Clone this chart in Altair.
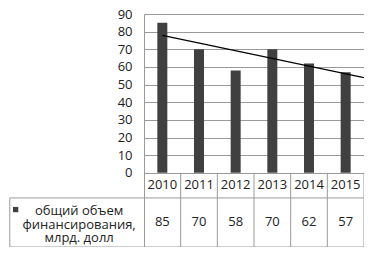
import altair as alt
import pandas as pd

# ---- data ----
years = ["2010", "2011", "2012", "2013", "2014", "2015"]
values = [85, 70, 58, 70, 62, 57]
y_ticks = [0, 10, 20, 30, 40, 50, 60, 70, 80, 90]
series_label = ["общий объем", "финансирования,", "млрд. долл"]

FONT = "Open Sans"
TXT = "#222222"
BAR = "#404040"
LINE = "#9a9a9a"

n = len(years)
df = pd.DataFrame({"year": years, "value": values, "i": list(range(n))})
df["xc"] = df["i"] + 0.5

# table geometry in data units (y below zero is the data table)
HEAD_MID = -7.1
ROW_SPLIT = -14.2
ROW_MID = -28.1
BOTTOM = -42
LEFT = -3.66

XS = alt.Scale(domain=[0, n], nice=False, zero=False, padding=0)
YS = alt.Scale(domain=[BOTTOM, 90], nice=False, zero=False, padding=0)
Y_AXIS = alt.Axis(
    values=y_ticks, grid=True, gridColor=LINE, gridWidth=1, labelOverlap=False,
    domainColor=LINE, ticks=False, labelPadding=12, title=None,
    labelFont=FONT, labelFontSize=13, labelColor=TXT)


def X(f):
    return alt.X(f, scale=XS, axis=None)


def Y(f):
    return alt.Y(f, scale=YS, axis=Y_AXIS)


bars = alt.Chart(df).mark_bar(size=10, color=BAR).encode(
    x=X("xc:Q"), y=Y("value:Q"), y2=alt.datum(0),
)

trend = alt.Chart(df).transform_regression(
    "i", "value", extent=[0, n - 0.5]
).transform_calculate(xc="datum.i + 0.5").mark_line(
    color="black", strokeWidth=1.3
).encode(x=X("xc:Q"), y=Y("value:Q"))

# table grid segments
segs = []
for k in range(1, n + 1):
    segs.append({"x": k, "x2": k, "y": 0, "y2": BOTTOM})
segs.append({"x": LEFT, "x2": n, "y": ROW_SPLIT, "y2": ROW_SPLIT})
segs.append({"x": LEFT, "x2": n, "y": BOTTOM, "y2": BOTTOM})
segs.append({"x": LEFT, "x2": LEFT, "y": ROW_SPLIT, "y2": BOTTOM})
segs_df = pd.DataFrame(segs)

grid = alt.Chart(segs_df).mark_rule(color=LINE, strokeWidth=1).encode(
    x=X("x:Q"), x2="x2:Q", y=Y("y:Q"), y2="y2:Q",
)

year_txt = alt.Chart(df).transform_calculate(hy=str(HEAD_MID)).mark_text(
    font=FONT, fontSize=13, color=TXT).encode(
    x=X("xc:Q"), y=Y("hy:Q"), text="year:N")

val_txt = alt.Chart(df).transform_calculate(vy=str(ROW_MID)).mark_text(
    font=FONT, fontSize=13, color=TXT).encode(
    x=X("xc:Q"), y=Y("vy:Q"), text="value:Q")

leg_lines = pd.DataFrame({"label": series_label, "x": [-1.77] * 3,
                          "y": [-21.6, -29.3, -36.8]})
leg_mark = pd.DataFrame({"mx": [-3.5], "my": [-20.8]})

leg_sq = alt.Chart(leg_mark).mark_square(size=28, color=BAR, opacity=1).encode(
    x=X("mx:Q"), y=Y("my:Q"))

leg_txt = alt.Chart(leg_lines).mark_text(font=FONT, fontSize=13, color=TXT,
                                         align="center", baseline="middle").encode(
    x=X("x:Q"), y=Y("y:Q"), text="label:N")

chart = alt.layer(bars, grid, trend, year_txt, val_txt, leg_sq, leg_txt).properties(
    width=220, height=233,
    autosize=alt.AutoSizeParams(type="none"),
    padding={"left": 136, "top": 6, "right": 0, "bottom": 0},
).configure_view(stroke=None)

chart.save("out.html", embed_options={"renderer": "svg", "actions": False})
